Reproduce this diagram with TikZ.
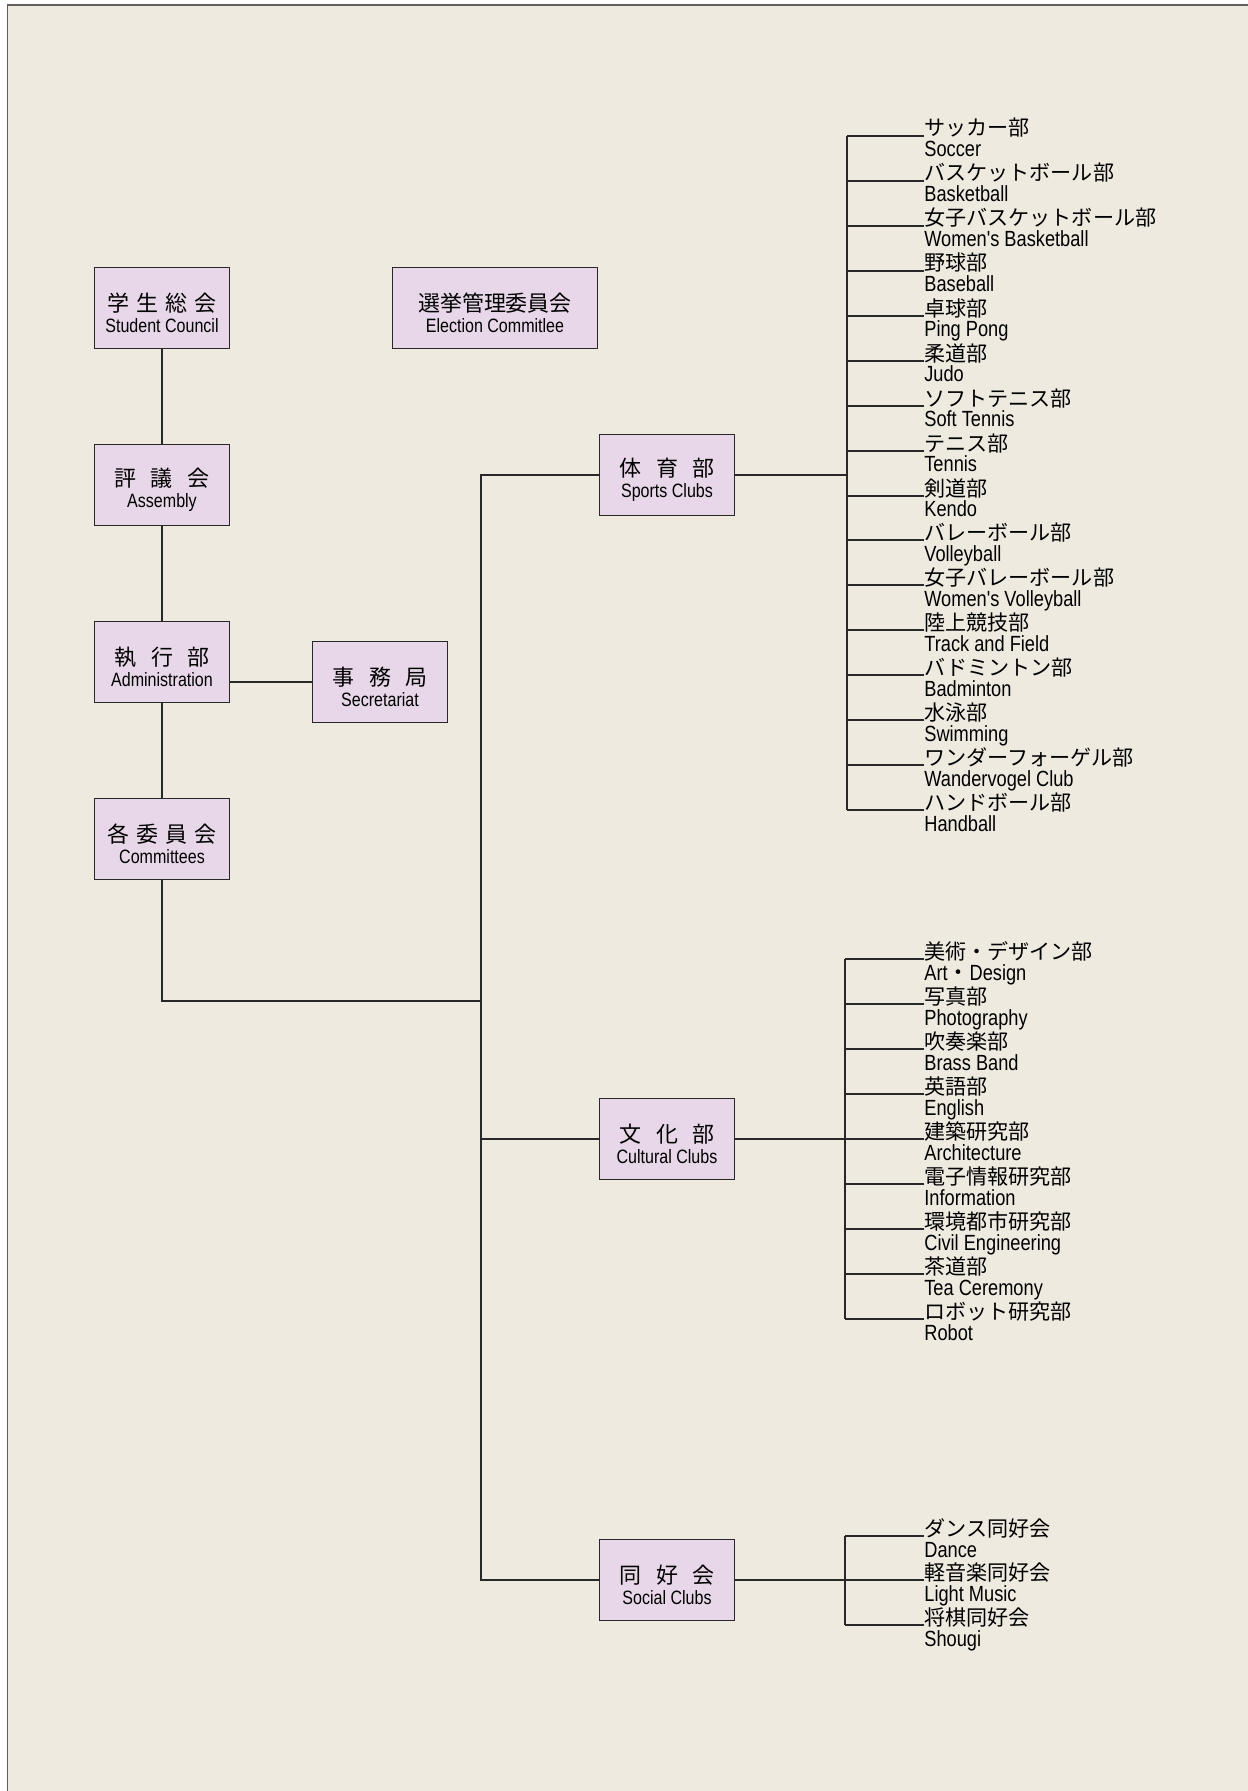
\documentclass[tikz,border=0pt]{standalone}
\usepackage{fontspec}
\setmainfont[FakeStretch=0.83, Ligatures=TeXOff]{Liberation Sans}
\newfontfamily\jp{Noto Sans CJK JP}
\usetikzlibrary{positioning}
\definecolor{paper}{RGB}{238,234,224}
\definecolor{unitfill}{RGB}{231,215,232}
\definecolor{ink}{RGB}{40,40,40}
\tikzset{
  unit/.style={rectangle, minimum width=2.7cm, minimum height=1.62cm, align=center, inner sep=0pt, draw=ink, line width=0.6pt, fill=unitfill, font=\fontsize{11}{12}\selectfont},
  link/.style={draw=ink, line width=0.65pt},
  clubjp/.style={anchor=base west, inner sep=0pt, font=\jp\fontsize{12}{14}\selectfont},
  cluben/.style={anchor=base west, inner sep=0pt, font=\fontsize{12.5}{14}\selectfont}
}
\newcommand{\jt}[1]{{\jp\fontsize{12.5}{12}\selectfont\rule{0pt}{16pt}#1}}
\newcommand{\club}[5]{%
  \node (#1) [clubjp] at (924,#3) {#4};
  \node (#1e) [cluben] at ([yshift=-0.42cm]#1.base west) {#5};
  \draw [link] (#1.base west) -- (#1.base west -| #2);
}
\begin{document}
\begin{tikzpicture}[x=0.02cm, y=-0.02cm, node distance=1.9cm and 1.64cm]

  \useasboundingbox (0,0) rectangle (1247,1791);
  \fill [paper] (0,0) rectangle (1260,1800);
  \fill [white] (0,0) rectangle (1260,5) (0,0) rectangle (7,1800);
  \draw [ink!75, line width=1.1pt] (1260,5) -- (7.5,5) -- (7.5,1800);

  \node (council) [unit] at (162,308) {\jt{学\hspace{.32em}生\hspace{.32em}総\hspace{.32em}会}\\Student Council};
  \node (election) [unit, minimum width=4.1cm, right=3.24cm of council] {\jt{選挙管理委員会}\\Election Commitlee};
  \node (assembly) [unit, below=of council] {\jt{評\hspace{.68em}議\hspace{.68em}会}\\Assembly};
  \node (admin) [unit, below=of assembly] {\jt{執\hspace{.68em}行\hspace{.68em}部}\\Administration};
  \node (secretariat) [unit, right=of admin, yshift=-0.4cm] {\jt{事\hspace{.68em}務\hspace{.68em}局}\\Secretariat};
  \node (committees) [unit, below=of admin] {\jt{各\hspace{.32em}委\hspace{.32em}員\hspace{.32em}会}\\Committees};

  \node (sports) [unit] at (667,475) {\jt{体\hspace{.68em}育\hspace{.68em}部}\\Sports Clubs};
  \node (cultural) [unit] at (667,1139) {\jt{文\hspace{.68em}化\hspace{.68em}部}\\Cultural Clubs};
  \node (social) [unit] at (667,1580) {\jt{同\hspace{.68em}好\hspace{.68em}会}\\Social Clubs};

  \coordinate (hub) at (481,1001);
  \coordinate (sbar) at (847,0);
  \coordinate (cbar) at (845,0);

  \draw [link] (council) -- (assembly);
  \draw [link] (assembly) -- (admin);
  \draw [link] (admin) -- (committees);
  \draw [link] (secretariat) -- (secretariat -| admin.east);
  \draw [link] (committees) |- (hub);
  \draw [link] (sports) -| (hub) |- (social);
  \draw [link] (cultural) -- (cultural -| hub);

  \club{s1}{sbar}{136}{サッカー部}{Soccer}
  \club{s2}{sbar}{181}{バスケットボール部}{Basketball}
  \club{s3}{sbar}{226}{女子バスケットボール部}{Women's Basketball}
  \club{s4}{sbar}{271}{野球部}{Baseball}
  \club{s5}{sbar}{316}{卓球部}{Ping Pong}
  \club{s6}{sbar}{361}{柔道部}{Judo}
  \club{s7}{sbar}{406}{ソフトテニス部}{Soft Tennis}
  \club{s8}{sbar}{451}{テニス部}{Tennis}
  \club{s9}{sbar}{496}{剣道部}{Kendo}
  \club{s10}{sbar}{540}{バレーボール部}{Volleyball}
  \club{s11}{sbar}{585}{女子バレーボール部}{Women's Volleyball}
  \club{s12}{sbar}{630}{陸上競技部}{Track and Field}
  \club{s13}{sbar}{675}{バドミントン部}{Badminton}
  \club{s14}{sbar}{720}{水泳部}{Swimming}
  \club{s15}{sbar}{765}{ワンダーフォーゲル部}{Wandervogel Club}
  \club{s16}{sbar}{810}{ハンドボール部}{Handball}
  \draw [link] (sports) -- (sports -| sbar);
  \draw [link] (s1.base west -| sbar) -- (s16.base west -| sbar);

  \club{c1}{cbar}{959}{美術・デザイン部}{Art{\jp ・}Design}
  \club{c2}{cbar}{1004}{写真部}{Photography}
  \club{c3}{cbar}{1049}{吹奏楽部}{Brass Band}
  \club{c4}{cbar}{1094}{英語部}{English}
  \club{c5}{cbar}{1139}{建築研究部}{Architecture}
  \club{c6}{cbar}{1184}{電子情報研究部}{Information}
  \club{c7}{cbar}{1229}{環境都市研究部}{Civil Engineering}
  \club{c8}{cbar}{1274}{茶道部}{Tea Ceremony}
  \club{c9}{cbar}{1319}{ロボット研究部}{Robot}
  \draw [link] (cultural) -- (cultural -| cbar);
  \draw [link] (c1.base west -| cbar) -- (c9.base west -| cbar);

  \club{h1}{cbar}{1536}{ダンス同好会}{Dance}
  \club{h2}{cbar}{1580}{軽音楽同好会}{Light Music}
  \club{h3}{cbar}{1625}{将棋同好会}{Shougi}
  \draw [link] (social) -- (social -| cbar);
  \draw [link] (h1.base west -| cbar) -- (h3.base west -| cbar);

\end{tikzpicture}
\end{document}
